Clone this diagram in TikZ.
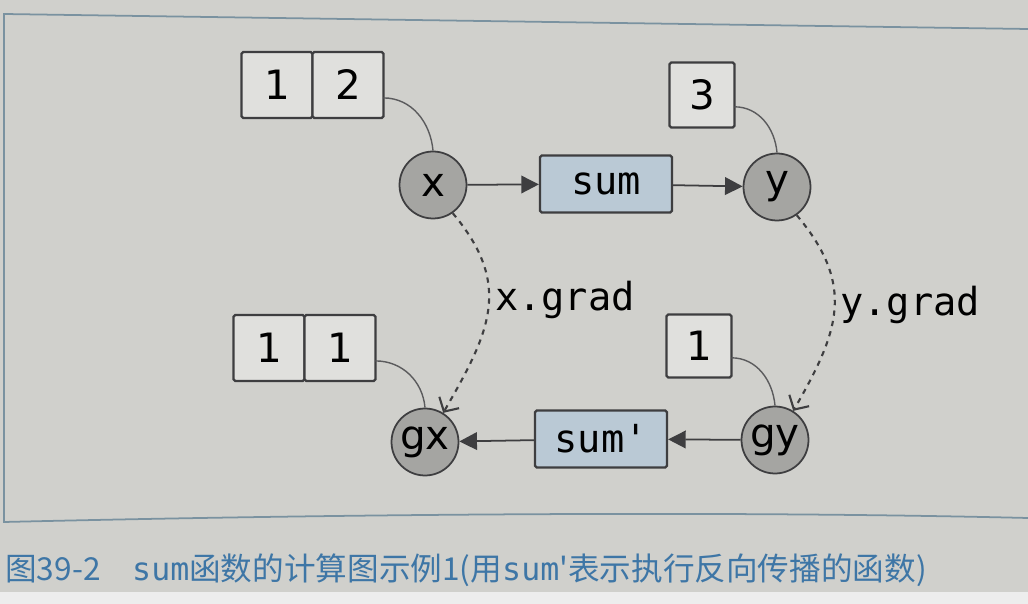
\documentclass[tikz,border=0pt]{standalone}
\usepackage{fontspec}
\setmainfont{DejaVu Sans}
\newfontfamily\monofont{DejaVu Sans Mono}
\newfontfamily\cjk{Noto Sans CJK SC}
\usetikzlibrary{arrows.meta,positioning}
\definecolor{paper}{RGB}{208,208,204}
\definecolor{ink}{RGB}{62,62,64}
\definecolor{cellfill}{RGB}{224,224,221}
\definecolor{varfill}{RGB}{165,165,162}
\definecolor{funcfill}{RGB}{186,201,213}
\definecolor{framecol}{RGB}{122,146,160}
\definecolor{capblue}{RGB}{62,118,166}
\tikzset{
  cell/.style={draw=ink, fill=cellfill, line width=1.3pt, rounded corners=1pt, outer sep=0pt,
    minimum width=1.42cm, minimum height=1.32cm, inner sep=0pt, font=\fontsize{23}{23}\selectfont},
  var/.style={draw=ink, fill=varfill, circle, minimum size=1.34cm, inner sep=0pt, line width=1pt,
    font=\fontsize{23}{23}\selectfont},
  func/.style={draw=ink, fill=funcfill, line width=1.3pt, rounded corners=1pt, minimum width=2.64cm,
    minimum height=1.14cm, inner sep=0pt, font=\monofont\fontsize{22}{22}\selectfont},
  link/.style={draw=ink!85, line width=0.8pt},
  flow/.style={draw=ink, line width=1pt, -{Triangle[length=10pt,width=10pt]}},
  grad/.style={draw=ink, line width=1.2pt, dashed, -{Straight Barb[length=6pt,width=13pt]}},
}

\begin{document}
\begin{tikzpicture}[x=0.02cm, y=-0.02cm]
    \fill [paper] (0, 0) rectangle (1028, 592);
    \fill [black!7] (0, 592) rectangle (1028, 604);
    \useasboundingbox (0, 0) rectangle (1028, 604);
    \draw [framecol, line width=1pt] (1028, 29) -- (4, 14) -- (4, 522)
        .. controls (300, 515) and (700, 510) .. (1028, 518);

    % forward pass
    \node [cell] (c1) at (277, 85) {1};
    \node [cell, right=0pt of c1] (c2) {2};
    \node [cell, minimum width=1.3cm, minimum height=1.3cm] (c3) at (702, 95) {3};
    \node [var] (x) at (433, 185) {x};
    \node [func] (sum) at (606, 184) {sum};
    \node [var] (y) at (777, 187) {y};

    % backward pass
    \node [cell] (g1) at (269, 348) {1};
    \node [cell, right=0pt of g1] (g2) {1};
    \node [cell, minimum width=1.3cm, minimum height=1.26cm] (g3) at (699, 346) {1};
    \node [var] (gx) at (425, 442) {gx};
    \node [func] (sumb) at (601, 439) {sum'};
    \node [var] (gy) at (775, 440) {gy};

    \draw [link] (c2.-20) to [out=0, in=95] (x.north);
    \draw [link] (c3.-20) to [out=0, in=95] (y.north);
    \draw [link] (g2.-20) to [out=0, in=95] (gx.north);
    \draw [link] (g3.-20) to [out=0, in=95] (gy.north);

    \draw [flow] (x) -- (sum);
    \draw [flow] (sum) -- (y);
    \draw [flow] (gy) -- (sumb);
    \draw [flow] (sumb) -- (gx);

    \draw [grad] (x.-55) to [out=-50, in=60, looseness=1.2] (gx.58);
    \draw [grad] (y.-55) to [out=-50, in=60, looseness=1.2] (gy.58);
    \node [font=\monofont\fontsize{22}{22}\selectfont] (xg) at (565, 300) {x.grad};
    \node [font=\monofont\fontsize{22}{22}\selectfont] (yg) at (910, 305) {y.grad};

    \node [anchor=west, text=capblue, font=\cjk\fontsize{18}{18}\selectfont, inner sep=0pt] (cap) at (5, 570)
        {图39-2\quad{\monofont sum}函数的计算图示例1(用{\monofont sum}'表示执行反向传播的函数)};
\end{tikzpicture}
\end{document}
